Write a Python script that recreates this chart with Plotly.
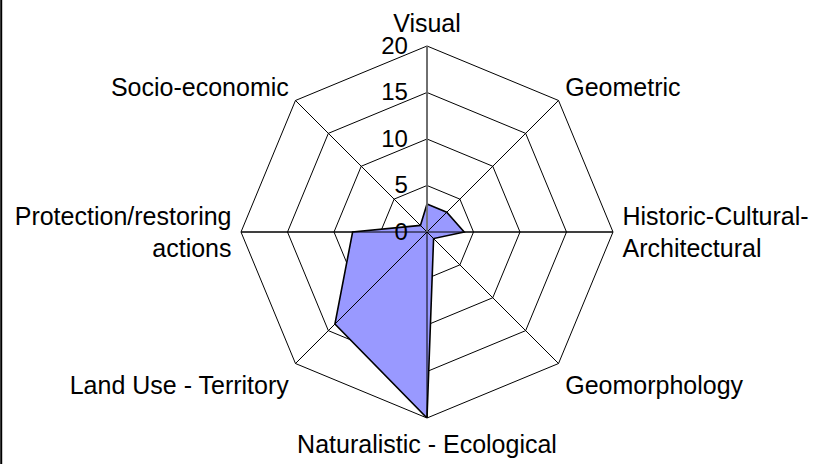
import plotly.graph_objects as go

categories = ["Visual", "Geometric", "Historic-Cultural-<br>Architectural", "Geomorphology",
              "Naturalistic - Ecological", "Land Use - Territory",
              "Protection/restoring<br>actions", "Socio-economic"]
values = [3, 3, 4, 1, 20, 14, 8, 1]
radial_ticks = [0, 5, 10, 15, 20]

FONT = "Liberation Sans, Arial, sans-serif"
rmax = radial_ticks[-1]

fig = go.Figure()
fig.add_trace(go.Scatterpolar(
    r=values + values[:1], theta=categories + categories[:1],
    mode="lines", fill="toself", fillcolor="#9999FF",
    line=dict(color="black", width=1.6), hoverinfo="skip", showlegend=False))

# spokes drawn over the filled area (as in the original)
sr, st = [], []
for c in categories:
    sr += [0, rmax, None]
    st += [c, c, c]
fig.add_trace(go.Scatterpolar(r=sr, theta=st, mode="lines",
                              line=dict(color="black", width=1),
                              hoverinfo="skip", showlegend=False))

fig.update_layout(
    width=815, height=464,
    margin=dict(l=0, r=0, t=0, b=0),
    paper_bgcolor="white",
    font=dict(family=FONT, color="black", size=24),
    polar=dict(
        domain=dict(x=[241/815, 613/815], y=[46/464, 418/464]),
        bgcolor="white",
        gridshape="linear",
        angularaxis=dict(type="category", direction="clockwise", rotation=90,
                         categoryarray=categories,
                         showline=True, linecolor="black", linewidth=1,
                         showgrid=True, gridcolor="black", gridwidth=1,
                         ticks="outside", ticklen=4, tickcolor="rgba(255,255,255,0)",
                         tickfont=dict(size=25, family=FONT)),
        radialaxis=dict(range=[0, rmax], tickvals=radial_ticks,
                        ticktext=[str(v) for v in radial_ticks],
                        angle=90, tickangle=90, side="counterclockwise",
                        showline=True, linecolor="#808080", linewidth=1.5,
                        showgrid=True, gridcolor="black", gridwidth=1,
                        ticks="outside", ticklen=10, tickcolor="rgba(255,255,255,0)",
                        tickfont=dict(size=24, family=FONT)),
    ),
    shapes=[dict(type="line", xref="paper", yref="paper", x0=0.0015, x1=0.0015,
                 y0=0, y1=1, line=dict(color="black", width=2))],
)

fig.write_html("out.html", config={"displayModeBar": False},
               post_script="document.body.style.margin='0';")
